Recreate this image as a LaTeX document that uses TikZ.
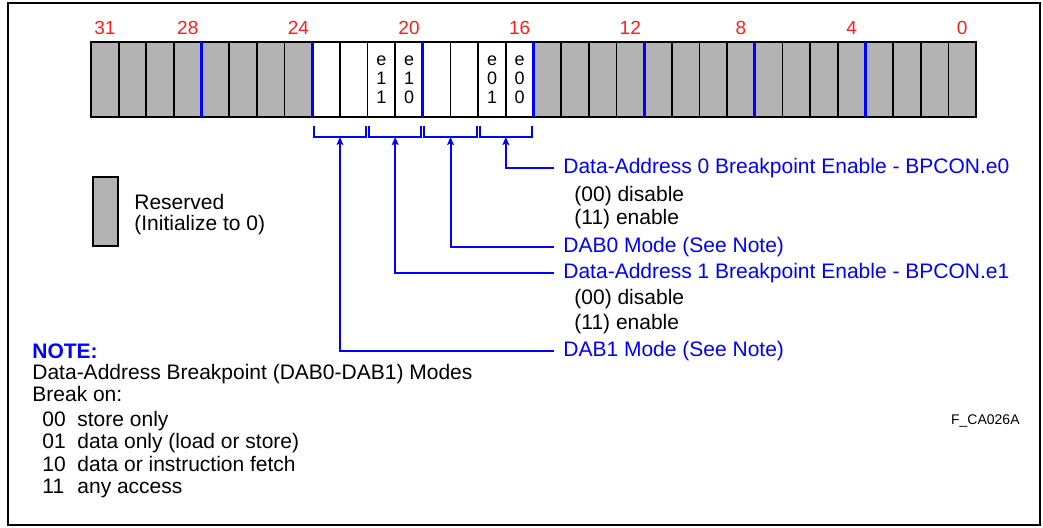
\documentclass[tikz,border=0pt]{standalone}
\usepackage{fontspec}
\setmainfont{Liberation Sans}
\usetikzlibrary{arrows.meta,positioning}
\definecolor{bitred}{HTML}{FF1E1E}
\definecolor{fldblue}{HTML}{0000FF}
\definecolor{resgray}{HTML}{B3B3B3}

\begin{document}
\begin{tikzpicture}[x=0.5pt, y=-0.5pt,
  bitnum/.style={font=\fontsize{9.5}{10}\selectfont, bitred, inner sep=0pt},
  celltxt/.style={font=\fontsize{9}{9.5}\selectfont, align=center, inner sep=0pt},
  fieldlbl/.style={font=\fontsize{10.5}{12}\selectfont, fldblue, anchor=west,
    inner xsep=4.5pt, inner ysep=0pt},
  plainlbl/.style={font=\fontsize{10.5}{12}\selectfont, anchor=base west, inner sep=0pt},
  ptr/.style={fldblue, line width=1pt, -{Stealth[length=4pt,width=3.4pt,inset=0.8pt]}},
  brk/.style={fldblue, line width=1pt}]
  \useasboundingbox (0,0) rectangle (1043,527);
  % ── Frame ──
  \draw[line width=0.9pt] (8,3) rectangle (1040,525);

  % ── Register: 32 cells, bit 31 at the left ──
  \fill[resgray] (91,42) rectangle (976,117);
  \fill[white] (312.25,42) rectangle (533.5,117);
  \foreach \i in {1,...,31}
    \draw[line width=0.85pt] ({91+\i*27.656},42) -- ({91+\i*27.656},117);
  \draw[line width=0.85pt] (91,42) rectangle (976,117);
  % nibble boundaries
  \foreach \i in {4,8,...,28}
    \draw[fldblue, line width=1.4pt] ({91+\i*27.656},42) -- ({91+\i*27.656},117);
  % bit numbers
  \foreach \b in {31,28,24,20,16,12,8,4,0}
    \node[bitnum] (bit\b) at ({91+(31.5-\b)*27.656},28) {\b};
  % enable bits
  \node[celltxt] (e11) at ({91+(31.5-21)*27.656},80) {e\\1\\1};
  \node[celltxt] (e10) at ({91+(31.5-20)*27.656},80) {e\\1\\0};
  \node[celltxt] (e01) at ({91+(31.5-17)*27.656},80) {e\\0\\1};
  \node[celltxt] (e00) at ({91+(31.5-16)*27.656},80) {e\\0\\0};

  % ── Field brackets ──
  \foreach \p/\nm in {23/dab1, 21/en1, 19/dab0, 17/en0} {
    \pgfmathsetmacro\xl{91+(31-\p)*27.656+1.5}
    \pgfmathsetmacro\xr{\xl+52.3}
    \draw[brk] (\xl,126) -- (\xl,137) -- (\xr,137) -- (\xr,126);
    \coordinate (b-\nm) at ({(\xl+\xr)/2},137);
  }

  % ── Field descriptions ──
  \node[fieldlbl] (en0) at (554,168) {Data-Address 0 Breakpoint Enable - BPCON.e0};
  \node[plainlbl] (en0dis) at (574,201) {(00) disable};
  \node[plainlbl] (en0ena) at (574,224.5) {(11) enable};
  \node[fieldlbl] (dab0) at (554,247) {DAB0 Mode (See Note)};
  \node[fieldlbl] (en1) at (554,273) {Data-Address 1 Breakpoint Enable - BPCON.e1};
  \node[plainlbl] (en1dis) at (574,304.5) {(00) disable};
  \node[plainlbl] (en1ena) at (574,329) {(11) enable};
  \node[fieldlbl] (dab1) at (554,351) {DAB1 Mode (See Note)};
  \draw[ptr] (en0.west) -| (b-en0);
  \draw[ptr] (dab0.west) -| (b-dab0);
  \draw[ptr] (en1.west) -| (b-en1);
  \draw[ptr] (dab1.west) -| (b-dab1);

  % ── Legend ──
  \draw[fill=resgray, line width=0.85pt] (93,177) rectangle (118,246);
  \node[plainlbl] (resv) at (134,209.5) {Reserved};
  \node[plainlbl] (resinit) at (134,230.5) {(Initialize to 0)};

  % ── Note ──
  \node[plainlbl, fldblue, font=\fontsize{10.5}{12}\selectfont\bfseries] (note) at (32,358) {NOTE:};
  \node[plainlbl] (notehd) at (32,379) {Data-Address Breakpoint (DAB0-DAB1) Modes};
  \node[plainlbl] (brkon) at (32,401.5) {Break on:};
  \foreach \c/\t [count=\k] in {00/store only, 01/data only (load or store),
      10/data or instruction fetch, 11/any access} {
    \node[plainlbl] (code\k) at (42,{426.8+(\k-1)*22.1}) {\c};
    \node[plainlbl] (mode\k) at (77,{426.8+(\k-1)*22.1}) {\t};
  }
  \node[font=\fontsize{7}{8}\selectfont, anchor=east, inner sep=0pt] (figid) at (1020,421) {F\_CA026A};
\end{tikzpicture}
\end{document}
